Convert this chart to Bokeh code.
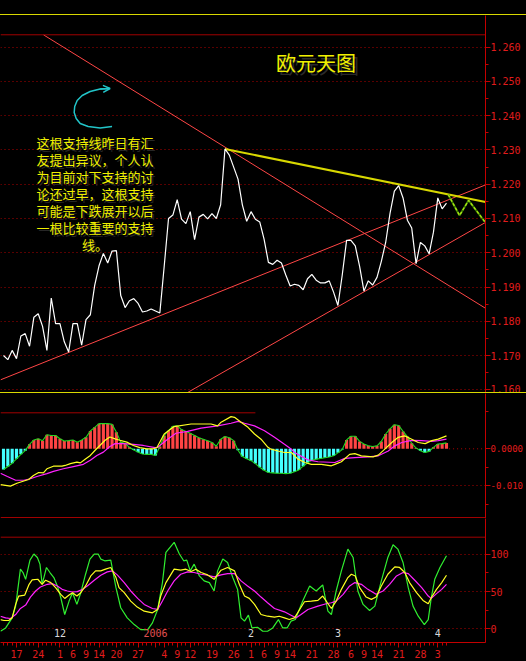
import pandas as pd
from bokeh.plotting import figure
from bokeh.layouts import column
from bokeh.models import (ColumnDataSource, Range1d, FixedTicker, Span, Label,
                          Div, Arrow, OpenHead, PrintfTickFormatter)
from bokeh.core.properties import value
from bokeh.embed import file_html
from bokeh.resources import INLINE

# ---------------------------------------------------------------- data
# one bar per weekday, EUR/USD daily
BAR_DATES = pd.bdate_range("2005-11-14", "2006-04-05")

CLOSE = [
    1.1700, 1.1688, 1.1715, 1.1691, 1.1757, 1.1764, 1.1727, 1.1812, 1.1822, 1.1785,
    1.1715, 1.1868, 1.1793, 1.1793, 1.1740, 1.1710, 1.1793, 1.1793, 1.1730, 1.1805,
    1.1819, 1.1905, 1.1962, 1.1998, 1.1970, 1.2005, 1.2006, 1.1875, 1.1840, 1.1860,
    1.1866, 1.1852, 1.1827, 1.1830, 1.1836, 1.1830, 1.1824, 1.1960, 1.2100, 1.2110,
    1.2155, 1.2098, 1.2085, 1.2120, 1.2038, 1.2104, 1.2112, 1.2099, 1.2114, 1.2100,
    1.2140, 1.2303, 1.2285, 1.2250, 1.2215, 1.2140, 1.2092, 1.2120, 1.2098, 1.2090,
    1.2040, 1.1972, 1.1966, 1.1978, 1.1970, 1.1935, 1.1903, 1.1908, 1.1905, 1.1892,
    1.1924, 1.1937, 1.1920, 1.1912, 1.1912, 1.1918, 1.1885, 1.1846, 1.1935, 1.2036,
    1.2036, 1.2020, 1.1960, 1.1888, 1.1918, 1.1906, 1.1928, 1.1975, 1.2030, 1.2115,
    1.2180, 1.2196, 1.2160, 1.2095, 1.2072, 1.1968, 1.2030, 1.2020, 1.1997, 1.2060,
    1.2160, 1.2128, 1.2145,
]

MACD_HIST = [
    -0.0056, -0.0048, -0.0039, -0.0027, -0.0015, -0.0005, 0.0012, 0.0024, 0.0027, 0.0022,
    0.0038, 0.0036, 0.0036, 0.0027, 0.0021, 0.0022, 0.0024, 0.0018, 0.0024, 0.0031,
    0.0048, 0.0058, 0.0068, 0.0068, 0.0068, 0.0066, 0.0045, 0.0018, 0.0014, 0.0004,
    -0.0003, -0.0009, -0.0014, -0.0015, -0.0015, -0.0018, 0.0006, 0.0036, 0.0049, 0.0061,
    0.0062, 0.0052, 0.0047, 0.0042, 0.0036, 0.0030, 0.0026, 0.0022, 0.0017, 0.0007,
    0.0026, 0.0033, 0.0030, 0.0022, -0.0004, -0.0021, -0.0027, -0.0032, -0.0040, -0.0050,
    -0.0058, -0.0064, -0.0065, -0.0066, -0.0066, -0.0067, -0.0066, -0.0062, -0.0057, -0.0047,
    -0.0038, -0.0031, -0.0028, -0.0026, -0.0024, -0.0022, -0.0019, -0.0011, -0.0002, 0.0024,
    0.0034, 0.0034, 0.0020, 0.0013, 0.0008, 0.0006, 0.0008, 0.0020, 0.0040, 0.0054,
    0.0065, 0.0063, 0.0047, 0.0033, 0.0015, 0.0002, -0.0005, -0.0010, -0.0007, 0.0004,
    0.0013, 0.0014, 0.0016,
]

# MACD lines, read at bar positions
DIF_X = [-0.7, 1.6, 3.1, 4.7, 5.8, 6.9, 8.1, 9.2, 10.0, 11.5, 13.5, 14.2, 15.4, 16.9, 17.7,
         18.8, 20.0, 21.1, 22.2, 23.4, 24.5, 25.7, 26.8, 28.4, 29.9, 31.4, 33.0, 34.5, 35.3,
         37.0, 39.3, 43.2, 47.8, 49.3, 50.1, 52.4, 53.2, 54.7, 56.3, 57.8, 59.3, 60.9, 61.6,
         63.2, 64.7, 66.3, 67.8, 69.4, 70.9, 73.2, 75.5, 76.3, 77.8, 79.7, 80.9, 82.4, 85.1,
         86.3, 87.8, 89.4, 90.9, 92.4, 94.0, 95.5, 97.1, 98.6, 100.1, 102.0]
DIF_Y = [-0.0097, -0.0101, -0.0093, -0.0087, -0.0083, -0.0072, -0.0064, -0.0065, -0.0054,
         -0.0047, -0.0047, -0.0045, -0.0040, -0.0036, -0.0038, -0.0028, -0.0018, -0.0004,
         0.0009, 0.0023, 0.0032, 0.0027, 0.0023, 0.0018, 0.0009, 0.0003, 0.0000, 0.0000,
         0.0003, 0.0040, 0.0060, 0.0067, 0.0067, 0.0062, 0.0072, 0.0087, 0.0085, 0.0072,
         0.0058, 0.0040, 0.0026, 0.0004, -0.0001, -0.0006, -0.0010, -0.0010, -0.0028,
         -0.0037, -0.0042, -0.0042, -0.0046, -0.0042, -0.0035, -0.0015, -0.0013, -0.0019,
         -0.0022, -0.0017, -0.0001, 0.0017, 0.0031, 0.0035, 0.0026, 0.0017, 0.0014, 0.0022,
         0.0026, 0.0035]
DEA_X = [-0.7, 0.9, 2.8, 4.7, 6.2, 7.7, 10.0, 11.5, 13.8, 16.1, 18.4, 20.0, 21.5, 23.0, 24.5,
         25.7, 27.6, 29.9, 32.2, 34.9, 35.5, 37.8, 39.7, 42.4, 45.5, 49.3, 52.4, 54.0, 55.5,
         57.8, 60.1, 62.4, 64.7, 66.3, 67.0, 70.1, 72.4, 76.3, 78.6, 80.9, 84.0, 86.3, 88.6,
         90.1, 91.7, 94.0, 96.3, 98.6, 100.1, 102.0]
DEA_Y = [-0.0066, -0.0075, -0.0085, -0.0085, -0.0081, -0.0075, -0.0067, -0.0061, -0.0054,
         -0.0048, -0.0042, -0.0031, -0.0018, -0.0009, 0.0006, 0.0014, 0.0014, 0.0012, 0.0009,
         0.0003, 0.0004, 0.0026, 0.0042, 0.0047, 0.0056, 0.0062, 0.0069, 0.0074, 0.0069,
         0.0062, 0.0049, 0.0031, 0.0012, -0.0001, -0.0010, -0.0030, -0.0035, -0.0037,
         -0.0026, -0.0024, -0.0022, -0.0019, -0.0006, 0.0008, 0.0017, 0.0023, 0.0022, 0.0020,
         0.0022, 0.0026]

# KDJ stochastic lines
K_X = [-0.7, 0.1, 1.2, 2.0, 2.8, 3.5, 4.9, 5.9, 6.6, 7.9, 8.9, 9.7, 10.9, 12.0, 13.2, 14.1,
       15.1, 15.9, 16.9, 17.8, 18.9, 20.1, 21.2, 22.4, 23.5, 24.7, 25.9, 26.6, 27.8, 29.3,
       30.8, 32.4, 34.3, 35.5, 36.2, 37.4, 39.3, 40.8, 42.0, 43.2, 44.3, 45.5, 47.0, 48.5,
       50.1, 51.6, 53.2, 54.3, 55.5, 56.6, 57.8, 59.3, 60.8, 62.4, 63.5, 64.7, 65.8, 67.0,
       68.2, 69.3, 70.9, 72.4, 73.5, 75.5, 76.6, 77.8, 79.3, 80.1, 81.0, 82.0, 83.5, 84.7,
       85.8, 87.0, 88.5, 90.1, 91.2, 92.4, 93.5, 95.1, 96.6, 97.8, 98.5, 99.7, 100.9, 102.0]
K_Y = [12.2, 10.9, 10.9, 14.5, 32.6, 43.9, 45.2, 59.7, 65.6, 66.5, 59.7, 65.2, 62.0, 55.2,
       46.2, 40.7, 45.2, 48.4, 43.9, 48.4, 57.5, 71.0, 77.8, 77.8, 80.1, 82.4, 68.8, 55.2,
       48.4, 37.1, 29.0, 23.5, 21.3, 25.8, 43.9, 62.0, 80.1, 78.7, 80.1, 76.9, 80.1, 75.6,
       72.4, 66.5, 78.7, 82.4, 77.8, 59.7, 43.9, 40.7, 32.6, 19.0, 16.7, 15.4, 16.7, 14.5,
       12.2, 14.5, 25.8, 36.2, 37.1, 38.0, 43.9, 27.1, 37.1, 52.9, 68.8, 73.3, 71.0, 55.2,
       42.5, 39.4, 42.5, 57.5, 73.3, 83.3, 82.4, 75.6, 62.0, 48.4, 38.0, 33.5, 41.6, 52.9,
       62.0, 71.9]
D_X = [-0.7, 0.5, 1.6, 2.8, 3.9, 5.1, 6.2, 7.4, 8.5, 10.1, 11.2, 12.4, 13.5, 14.7, 15.9, 17.0,
       18.2, 19.3, 20.9, 22.4, 23.9, 25.1, 26.2, 27.8, 29.3, 30.9, 32.4, 34.3, 35.5, 36.6,
       37.8, 39.3, 40.8, 42.4, 43.9, 45.5, 47.0, 48.5, 50.1, 51.6, 53.2, 54.7, 56.2, 57.8,
       59.3, 60.8, 62.4, 64.7, 66.2, 67.4, 68.5, 70.1, 72.4, 74.3, 75.5, 76.6, 78.2, 79.7,
       80.9, 82.4, 83.9, 85.8, 87.4, 88.9, 90.5, 92.0, 93.2, 94.7, 96.3, 97.8, 98.5, 99.7,
       100.9, 102.0]
D_Y = [16.7, 14.5, 13.6, 19.0, 27.1, 31.7, 42.5, 50.7, 56.1, 59.7, 60.6, 57.5, 52.9, 50.7,
       49.3, 49.8, 52.9, 57.5, 65.2, 71.9, 76.5, 77.8, 72.4, 62.0, 50.7, 40.7, 32.6, 27.1,
       25.8, 37.1, 50.7, 64.3, 73.3, 76.5, 75.6, 73.3, 71.9, 69.7, 72.4, 74.2, 74.2, 64.3,
       57.5, 50.7, 42.5, 34.8, 27.1, 22.6, 18.1, 14.5, 19.0, 25.8, 30.3, 33.5, 34.8, 37.1,
       46.2, 57.5, 62.0, 59.7, 52.9, 46.2, 50.7, 59.7, 71.0, 75.6, 74.2, 65.2, 55.2, 43.9,
       40.7, 47.1, 52.9, 59.7]
J_X = [-0.7, 0.5, 2.0, 2.8, 3.9, 4.5, 5.1, 6.1, 7.0, 7.8, 8.4, 8.9, 9.9, 10.7, 11.6, 12.4,
       13.2, 14.1, 15.1, 15.9, 16.9, 17.8, 18.9, 19.9, 20.9, 21.8, 22.4, 23.3, 24.7, 25.9,
       27.0, 28.5, 30.1, 31.6, 33.2, 34.3, 35.5, 36.6, 37.4, 39.3, 40.5, 41.5, 42.2, 43.0,
       43.9, 45.1, 46.2, 47.4, 48.5, 49.3, 50.5, 51.6, 52.8, 53.9, 54.7, 55.5, 56.4, 57.2,
       58.5, 59.7, 60.8, 62.0, 63.3, 64.3, 65.3, 66.2, 67.2, 68.9, 70.5, 72.0, 73.5, 74.7,
       75.5, 76.6, 77.8, 79.3, 80.5, 81.6, 82.8, 84.3, 85.5, 87.0, 88.5, 89.7, 90.8, 92.0,
       93.2, 94.3, 95.5, 96.9, 97.8, 98.5, 99.3, 100.5, 102.0]
J_Y = [-3.6, 0.9, 14.5, 30.3, 80.1, 75.6, 66.5, 92.3, 100.5, 95.9, 86.9, 59.7, 82.4, 75.6,
       68.8, 57.5, 41.6, 19.0, 37.1, 48.4, 32.6, 48.4, 73.3, 93.7, 100.5, 100.5, 93.7, 91.4,
       92.3, 55.2, 28.1, 14.5, 5.4, -1.4, -1.4, 7.7, 25.8, 62.0, 102.7, 116.3, 100.5, 91.4,
       92.3, 77.8, 86.9, 71.0, 64.3, 62.0, 50.7, 77.8, 93.7, 89.1, 68.8, 52.9, 14.5, 10.0,
       18.1, 0.9, 1.8, -3.6, -3.6, 0.9, 12.2, 0.9, 0.9, 10.0, 12.2, 37.1, 57.5, 50.7, 58.8,
       23.5, 19.0, 50.7, 77.8, 107.2, 95.9, 50.7, 32.6, 24.4, 30.3, 64.3, 95.9, 113.1, 107.2,
       89.1, 55.2, 30.3, 16.7, 5.4, 12.2, 41.6, 66.5, 82.4, 98.2]

# hand-drawn trend lines: (bar, price) anchors
TREND_X0 = [9.22, -0.69, 42.38, 51.0]
TREND_Y0 = [1.2636, 1.1629, 1.1592, 1.2303]
TREND_X1 = [110.98, 110.98, 111.05, 110.98]
TREND_Y1 = [1.1838, 1.2198, 1.2089, 1.2148]
TREND_COLOR = ["#ff4646", "#ff4646", "#ff4646", "#d8d800"]
TREND_WIDTH = [1, 1, 1, 2]

# projected path after the last bar
PROJ_X = [102.4, 105.0, 107.1, 110.8]
PROJ_Y = [1.2170, 1.2109, 1.2153, 1.2091]

# curved pointer beside the note
ARROW_X = [25.0, 22.25, 19.5, 17.66, 16.74, 16.28, 16.4, 16.97, 18.12, 19.95, 22.25, 24.54]
ARROW_Y = [1.23685, 1.23642, 1.23685, 1.23773, 1.23919, 1.24094, 1.24269, 1.24444,
           1.24590, 1.24707, 1.24780, 1.24794]

TITLE = "欧元天图"
NOTE_LINES = ["这根支持线昨日有汇", "友提出异议，个人认", "为目前对下支持的讨",
              "论还过早，这根支持", "可能是下跌展开以后", "一根比较重要的支持", "线。"]

PRICE_TICKS = [1.16, 1.17, 1.18, 1.19, 1.20, 1.21, 1.22, 1.23, 1.24, 1.25, 1.26]
PRICE_MINOR = [1.165, 1.175, 1.185, 1.195, 1.205, 1.215, 1.225, 1.235, 1.245, 1.255]
MACD_TICKS = [-0.01, 0.0]
MACD_TICK_LABELS = ["-0.010", "0.0000"]
MACD_MINOR = [0.01, -0.005, -0.015]
KDJ_TICKS = [0, 50, 100]
KDJ_MINOR = [25, 75]

TICK_DATES = ["2005-11-17", "2005-11-24", "2005-12-01", "2005-12-06", "2005-12-09",
              "2005-12-14", "2005-12-20", "2005-12-27", "2006-01-04", "2006-01-09",
              "2006-01-12", "2006-01-19", "2006-01-26", "2006-02-01", "2006-02-06",
              "2006-02-09", "2006-02-14", "2006-02-21", "2006-02-28", "2006-03-06",
              "2006-03-09", "2006-03-14", "2006-03-21", "2006-03-28", "2006-04-03"]
TICK_LABELS = ["17", "24", "1", "6", "9", "14", "20", "27", "4", "9", "12", "19", "26",
               "1", "6", "9", "14", "21", "28", "6", "9", "14", "21", "28", "3"]
MONTH_DATES = ["2005-12-01", "2006-01-02", "2006-02-01", "2006-03-01", "2006-04-03"]
MONTH_LABELS = ["12", "2006", "2", "3", "4"]

# ---------------------------------------------------------------- style
MONO = "DejaVu Sans Mono"
CJK = "Noto Sans CJK SC"
AXIS_RED = "#c40000"
LABEL_RED = "#e01c1c"
GRID_RED = "#b00000"
RULE_RED = "#a00000"
YELLOW = "#f0f000"
CYAN = "#22c4c8"

BAR_STEP_PX = 4.37
FIRST_BAR_PX = 3.0
FRAME_W = 488

N = len(BAR_DATES)
idx = list(range(N))
pos = {d.strftime("%Y-%m-%d"): i for i, d in enumerate(BAR_DATES)}

x_start = -FIRST_BAR_PX / BAR_STEP_PX
XR = Range1d(x_start, x_start + FRAME_W / BAR_STEP_PX)


def panel(height, y_range, bottom=0, x_axis=None):
    return figure(width=526, height=height, x_range=XR, y_range=y_range,
                  output_backend="svg", toolbar_location=None,
                  x_axis_location=x_axis, y_axis_location="right",
                  background_fill_color="black", border_fill_color="black",
                  outline_line_color=None, min_border_left=0, min_border_right=38,
                  min_border_top=0, min_border_bottom=bottom)


def style_axis(ax, ticks, minor, size="10px"):
    ax.ticker = FixedTicker(ticks=ticks, minor_ticks=minor)
    ax.axis_line_color = AXIS_RED
    ax.major_tick_line_color = AXIS_RED
    ax.minor_tick_line_color = AXIS_RED
    ax.major_tick_in = 0
    ax.major_tick_out = 5
    ax.minor_tick_in = 0
    ax.minor_tick_out = 3
    ax.major_label_text_color = LABEL_RED
    ax.major_label_text_font = MONO
    ax.major_label_text_font_size = size
    ax.major_label_standoff = 0


def style_grid(p):
    p.xgrid.visible = False
    p.ygrid.grid_line_color = GRID_RED
    p.ygrid.grid_line_dash = "1 3"


# ---------------------------------------------------------------- price panel
p1 = panel(377, Range1d(1.15921, 1.26925))
style_axis(p1.yaxis[0], PRICE_TICKS, PRICE_MINOR)
p1.yaxis[0].formatter = PrintfTickFormatter(format="%.3f")
style_grid(p1)
p1.add_layout(Span(location=1.26362, dimension="width", line_color=RULE_RED, line_width=1))

trend = ColumnDataSource(dict(x0=TREND_X0, y0=TREND_Y0, x1=TREND_X1, y1=TREND_Y1,
                              c=TREND_COLOR, w=TREND_WIDTH))
p1.segment(x0="x0", y0="y0", x1="x1", y1="y1", line_color="c", line_width="w", source=trend)

p1.line(idx, CLOSE, line_color="white", line_width=1.2)
p1.line(PROJ_X, PROJ_Y, line_color="#3c7c00", line_width=2)
p1.line(PROJ_X, PROJ_Y, line_color="#a8e414", line_width=1.4, line_dash="3 2")

p1.line(ARROW_X, ARROW_Y, line_color=CYAN, line_width=1.5)
p1.add_layout(Arrow(end=OpenHead(size=7, line_color=CYAN, line_width=1.5),
                    x_start=ARROW_X[-2], y_start=ARROW_Y[-2],
                    x_end=ARROW_X[-1], y_end=ARROW_Y[-1],
                    line_color=CYAN, line_width=1.5))

# title with a soft drop shadow
for dx, dy, col in [(3, -3, "#2a2a2a"), (0, 0, YELLOW)]:
    p1.add_layout(Label(x=71.97, y=1.2556, text=TITLE, x_offset=dx, y_offset=dy,
                        text_font=CJK, text_font_size="20px", text_color=col,
                        text_align="center", text_baseline="middle"))

# note block
note_x, note_top, note_step = 21.1, 1.2321, 0.00496
for k, line in enumerate(NOTE_LINES):
    for dx, dy, col in [(2, -2, "#262626"), (0, 0, YELLOW)]:
        p1.add_layout(Label(x=note_x, y=note_top - k * note_step, text=line,
                            x_offset=dx, y_offset=dy, text_font=CJK,
                            text_font_size="13px", text_color=col,
                            text_align="center", text_baseline="middle"))

# ---------------------------------------------------------------- MACD panel
p2 = panel(125, Range1d(-0.018838, 0.014946))
style_axis(p2.yaxis[0], MACD_TICKS, MACD_MINOR, size="9px")
p2.yaxis[0].major_label_overrides = dict(zip(MACD_TICKS, MACD_TICK_LABELS))
style_grid(p2)
p2.ygrid.ticker = FixedTicker(ticks=[MACD_TICKS[0]])
p2.add_layout(Span(location=-0.018568, dimension="width", line_color=RULE_RED, line_width=1))
p2.segment(x0=[x_start], y0=[0.00973], x1=[58.0], y1=[0.00973], line_color=RULE_RED,
           line_width=1)
p2.segment(x0=[N - 0.4], y0=[0.0], x1=[XR.end], y1=[0.0], line_color=GRID_RED,
           line_dash="1 3")

hist_colors = ["#ff4444" if v >= 0 else "#44ffff" for v in MACD_HIST]
p2.vbar(x=idx, top=MACD_HIST, bottom=0, width=0.72, fill_color=hist_colors, line_color=None)
p2.line(idx, MACD_HIST, line_color="#22d622", line_width=1.1)
p2.line(DEA_X, DEA_Y, line_color="#ff22ff", line_width=1.2)
p2.line(DIF_X, DIF_Y, line_color="#ffff22", line_width=1.2)

# ---------------------------------------------------------------- KDJ panel
p3 = panel(143, Range1d(-18.73, 148.4), bottom=19, x_axis="below")
style_axis(p3.yaxis[0], KDJ_TICKS, KDJ_MINOR)
style_grid(p3)
p3.add_layout(Span(location=123.2, dimension="width", line_color=RULE_RED, line_width=1))

xa = p3.xaxis[0]
major = [pos[d] for d in TICK_DATES] + [pos["2006-01-02"], pos["2006-03-01"]]
xa.ticker = FixedTicker(ticks=sorted(major), minor_ticks=idx)
overrides = {pos[d]: lab for d, lab in zip(TICK_DATES, TICK_LABELS)}
overrides[pos["2006-01-02"]] = ""
overrides[pos["2006-03-01"]] = ""
xa.major_label_overrides = overrides
xa.axis_line_color = AXIS_RED
xa.major_tick_line_color = AXIS_RED
xa.minor_tick_line_color = AXIS_RED
xa.major_tick_in = 0
xa.major_tick_out = 5
xa.minor_tick_in = 0
xa.minor_tick_out = 3
xa.major_label_standoff = 2
xa.major_label_text_color = LABEL_RED
xa.major_label_text_font = MONO
xa.major_label_text_font_size = "10px"

p3.line(J_X, J_Y, line_color="#30ee30", line_width=1.2)
p3.line(D_X, D_Y, line_color="#ff22ff", line_width=1.2)
p3.line(K_X, K_Y, line_color="#ffff22", line_width=1.2)

month_src = ColumnDataSource(dict(
    x=[pos[d] for d in MONTH_DATES],
    y=[-5.3] * len(MONTH_DATES),
    t=MONTH_LABELS,
    c=["#e05050" if len(m) == 4 else "#d8d8d8" for m in MONTH_LABELS]))
p3.text(x="x", y="y", text="t", text_color="c", source=month_src,
        text_font=value(MONO), text_font_size="10px",
        text_align="center", text_baseline="middle")

# ---------------------------------------------------------------- page
def strip(h, color):
    return Div(text="", width=526, height=h, margin=0,
               styles={"background-color": color})


layout = column(strip(14, "black"), strip(1, "#d8d800"), p1, strip(1, "#d8d800"), p2, p3,
                spacing=0, styles={"background-color": "black"})

open("out.html", "w").write(file_html(layout, INLINE))
